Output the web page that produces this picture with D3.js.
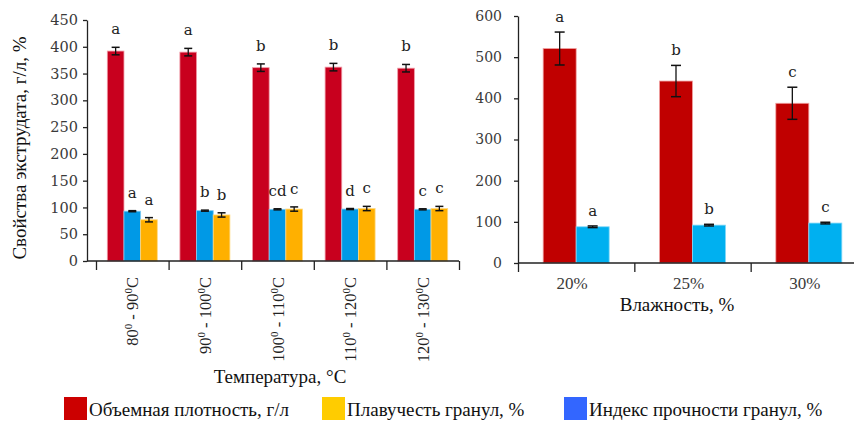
<!DOCTYPE html>
<html>
<head>
<meta charset="utf-8">
<script src="https://cdn.jsdelivr.net/npm/d3@7"></script>
<style>
  html, body { margin: 0; padding: 0; background: #fff; }
</style>
</head>
<body>
<svg id="chart" width="854" height="421"></svg>
<script>
// ---- Temperature panel data ----
const tempFrom = ["80", "90", "100", "110", "120"];
const tempTo = ["90", "100", "110", "120", "130"];
const densityTemp = [392, 390, 361, 362, 360];
const densityTempErr = [7, 7, 7, 7, 7];
const densityTempLetters = ["a", "a", "b", "b", "b"];
const pdiTemp = [93, 94, 96.5, 97, 96.5];
const pdiTempErr = [1, 1, 1, 1, 1];
const pdiTempLetters = ["a", "b", "cd", "d", "c"];
const floatTemp = [77, 86, 97, 98, 98];
const floatTempErr = [4, 4, 4, 4, 4];
const floatTempLetters = ["a", "b", "c", "c", "c"];
const tempTicks = [0, 50, 100, 150, 200, 250, 300, 350, 400, 450];

// ---- Moisture panel data ----
const moistCats = ["20%", "25%", "30%"];
const densityMoist = [521, 442, 388];
const densityMoistErr = [40, 38, 39];
const densityMoistLetters = ["a", "b", "c"];
const pdiMoist = [88, 92, 97];
const pdiMoistErr = [2, 2, 2];
const pdiMoistLetters = ["a", "b", "c"];
const moistTicks = [0, 100, 200, 300, 400, 500, 600];

// ---- Legend ----
const legendNames = ["Объемная плотность, г/л", "Плавучесть гранул, %", "Индекс прочности гранул, %"];
const legendColors = ["#cc0000", "#ffcc00", "#3366ff"];

const TIMES = "'Liberation Serif', 'Times New Roman', Times, serif";
const WIDE = "'DejaVu Serif', 'Liberation Serif', serif";

const svg = d3.select("#chart");
const txt = "#3a3a3a";

function drawErr(g, cx, top, err, y, cap) {
  g.append("line").attr("x1", cx).attr("x2", cx)
    .attr("y1", y(top + err)).attr("y2", y(top - err))
    .attr("stroke", "#111").attr("stroke-width", 1.3);
  [top + err, top - err].forEach(v => {
    g.append("line").attr("x1", cx - cap).attr("x2", cx + cap)
      .attr("y1", y(v)).attr("y2", y(v))
      .attr("stroke", "#111").attr("stroke-width", 1.5);
  });
}

// ================= Left panel: temperature =================
{
  const g = svg.append("g");
  const y = d3.scaleLinear().domain([0, 450]).range([261, 20]);
  const x = d3.scaleBand().domain(d3.range(tempFrom.length)).range([96, 459]);
  const groupW = 50;
  const seriesKeys = ["density", "pdi", "float"];
  const xs = d3.scaleBand().domain(seriesKeys)
    .range([(x.bandwidth() - groupW) / 2, (x.bandwidth() + groupW) / 2]);

  const series = [
    { key: "density", vals: densityTemp, err: densityTempErr, letters: densityTempLetters, color: "#c8001e", stroke: "#f09aa6" },
    { key: "pdi", vals: pdiTemp, err: pdiTempErr, letters: pdiTempLetters, color: "#0099e6", stroke: "#7fcaf2" },
    { key: "float", vals: floatTemp, err: floatTempErr, letters: floatTempLetters, color: "#ffb000", stroke: "#ffd980" }
  ];

  series.forEach(s => {
    s.vals.forEach((v, i) => {
      const bx = x(i) + xs(s.key);
      g.append("rect").attr("x", bx).attr("y", y(v))
        .attr("width", xs.bandwidth()).attr("height", y(0) - y(v))
        .attr("fill", s.color).attr("stroke", s.stroke).attr("stroke-width", 0.8);
      drawErr(g, bx + xs.bandwidth() / 2, v, s.err[i], y, 4);
      g.append("text").attr("x", bx + xs.bandwidth() / 2)
        .attr("y", y(v + s.err[i]) - 13)
        .attr("text-anchor", "middle").attr("font-size", 15).attr("font-family", WIDE)
        .attr("fill", "#222").text(s.letters[i]);
    });
  });

  // y axis
  const ya = g.append("g").attr("transform", "translate(87,0)")
    .call(d3.axisLeft(y).tickValues(tempTicks).tickSize(4).tickSizeOuter(0).tickPadding(5));
  ya.attr("font-family", WIDE);
  ya.select(".domain").attr("stroke", "#222").attr("stroke-width", 1.3);
  ya.selectAll(".tick line").attr("stroke", "#222").attr("stroke-width", 1.3);
  ya.selectAll("text").attr("font-size", 14.5).attr("fill", txt);

  // x axis baseline and category separators
  g.append("line").attr("x1", 87).attr("x2", 459).attr("y1", 261).attr("y2", 261)
    .attr("stroke", "#222").attr("stroke-width", 1.3);
  const xb = d3.scaleLinear().domain([0, tempFrom.length]).range([96, 459]);
  const xa = g.append("g").attr("transform", "translate(0,261)")
    .call(d3.axisBottom(xb).tickValues(d3.range(tempFrom.length + 1)).tickSize(9).tickSizeOuter(0).tickFormat(""));
  xa.select(".domain").remove();
  xa.selectAll(".tick line").attr("stroke", "#222").attr("stroke-width", 1.3);

  // rotated category labels with degree superscripts
  tempFrom.forEach((f, i) => {
    const cx = x(i) + x.bandwidth() / 2;
    const t = g.append("text")
      .attr("transform", `translate(${cx + 6},277) rotate(-90)`)
      .attr("text-anchor", "end").attr("font-size", 16.5).attr("font-family", TIMES)
      .attr("fill", "#222");
    t.append("tspan").text(f);
    t.append("tspan").attr("font-size", 11).attr("dy", -6).text("0");
    t.append("tspan").attr("dy", 6).text(" - " + tempTo[i]);
    t.append("tspan").attr("font-size", 11).attr("dy", -6).text("0");
    t.append("tspan").attr("dy", 6).text("C");
  });

  g.append("text").attr("x", 280).attr("y", 383).attr("text-anchor", "middle")
    .attr("font-size", 19).attr("font-family", TIMES).attr("fill", "#111")
    .text("Температура, °С");

  g.append("text").attr("transform", "translate(26,148) rotate(-90)")
    .attr("text-anchor", "middle").attr("font-size", 19).attr("font-family", TIMES)
    .attr("fill", "#111").text("Свойства экструдата, г/л, %");
}

// ================= Right panel: moisture =================
{
  const g = svg.append("g");
  const y = d3.scaleLinear().domain([0, 600]).range([263, 16]);
  const x = d3.scaleBand().domain(moistCats).range([518, 867]);
  const groupW = 66;
  const seriesKeys = ["density", "pdi"];
  const xs = d3.scaleBand().domain(seriesKeys)
    .range([(x.bandwidth() - groupW) / 2, (x.bandwidth() + groupW) / 2]);

  const series = [
    { key: "density", vals: densityMoist, err: densityMoistErr, letters: densityMoistLetters, color: "#c00000", stroke: "#f0a0a0" },
    { key: "pdi", vals: pdiMoist, err: pdiMoistErr, letters: pdiMoistLetters, color: "#00b0f0", stroke: "#80d8f8" }
  ];

  series.forEach(s => {
    s.vals.forEach((v, i) => {
      const bx = x(moistCats[i]) + xs(s.key);
      g.append("rect").attr("x", bx).attr("y", y(v))
        .attr("width", xs.bandwidth()).attr("height", y(0) - y(v))
        .attr("fill", s.color).attr("stroke", s.stroke).attr("stroke-width", 0.8);
      drawErr(g, bx + xs.bandwidth() / 2, v, s.err[i], y, 5);
      g.append("text").attr("x", bx + xs.bandwidth() / 2)
        .attr("y", y(v + s.err[i]) - 10)
        .attr("text-anchor", "middle").attr("font-size", 15).attr("font-family", WIDE)
        .attr("fill", "#222").text(s.letters[i]);
    });
  });

  const ya = g.append("g").attr("transform", "translate(518,0)")
    .call(d3.axisLeft(y).tickValues(moistTicks).tickSize(4).tickSizeOuter(0).tickPadding(12));
  ya.attr("font-family", WIDE);
  ya.select(".domain").attr("stroke", "#222").attr("stroke-width", 1.3);
  ya.selectAll(".tick line").attr("stroke", "#222").attr("stroke-width", 1.3);
  ya.selectAll("text").attr("font-size", 14).attr("fill", txt);

  g.append("line").attr("x1", 518).attr("x2", 854).attr("y1", 263).attr("y2", 263)
    .attr("stroke", "#222").attr("stroke-width", 1.3);
  const xb = d3.scaleLinear().domain([0, moistCats.length]).range([518, 867]);
  const xa = g.append("g").attr("transform", "translate(0,263)")
    .call(d3.axisBottom(xb).tickValues([0, 1, 2]).tickSize(9).tickSizeOuter(0).tickFormat(""));
  xa.select(".domain").remove();
  xa.selectAll(".tick line").attr("stroke", "#222").attr("stroke-width", 1.3);

  moistCats.forEach(c => {
    g.append("text").attr("x", x(c) + x.bandwidth() / 2 - 4).attr("y", 289)
      .attr("text-anchor", "middle").attr("font-size", 17).attr("font-family", TIMES)
      .attr("fill", txt).text(c);
  });

  g.append("text").attr("x", 677).attr("y", 311).attr("text-anchor", "middle")
    .attr("font-size", 19).attr("font-family", TIMES).attr("fill", "#111").text("Влажность, %");
}

// ================= Legend =================
{
  const lx = [64, 322, 564];
  const lg = svg.append("g");
  legendNames.forEach((n, i) => {
    lg.append("rect").attr("x", lx[i]).attr("y", 397).attr("width", 23).attr("height", 23)
      .attr("fill", legendColors[i]);
    lg.append("text").attr("x", lx[i] + 25).attr("y", 416)
      .attr("font-size", 19).attr("font-family", TIMES).attr("fill", "#111").text(n);
  });
}
</script>
</body>
</html>
